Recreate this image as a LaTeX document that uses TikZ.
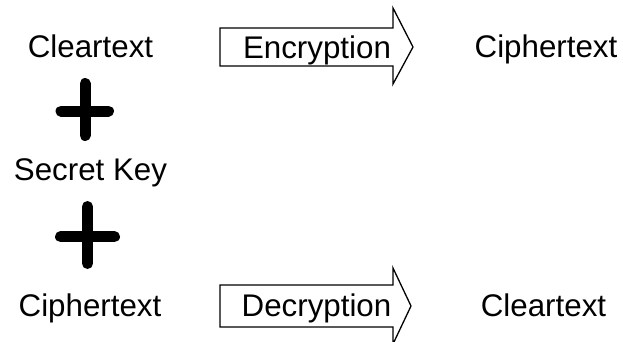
\documentclass[tikz,border=0pt]{standalone}
\usepackage{fontspec}
\setmainfont{Liberation Sans}
\begin{document}
\begin{tikzpicture}[x=1pt,y=-1pt,
  lbl/.style={anchor=base,inner sep=0pt,font=\fontsize{31.3}{36}\selectfont},
  outline/.style={draw=black,line width=1.3pt,line join=miter,fill=white},
  plusbar/.style={line width=11pt,line cap=round}]
\useasboundingbox (0,0) rectangle (623,341);

% block arrows
\draw[outline] (220,28) -- (393,28) -- (393,8) -- (413,47) -- (393,84)
  -- (393,66) -- (220,66) -- cycle;
\draw[outline] (220,285) -- (393,285) -- (393,268) -- (411,306) -- (393,344)
  -- (393,327) -- (220,327) -- cycle;

% labels
\node[lbl] (clear1) at (90.5,57) {Cleartext};
\node[lbl] (enc) at (317,58) {Encryption};
\node[lbl] (ciph1) at (546,57) {Ciphertext};
\node[lbl] (key) at (90.5,180) {Secret Key};
\node[lbl] (ciph2) at (90,316) {Ciphertext};
\node[lbl] (dec) at (316.5,316) {Decryption};
\node[lbl] (clear2) at (543.5,316) {Cleartext};

% plus signs
\draw[plusbar] (85,83.5) -- (85,135.5);
\draw[plusbar] (61,111) -- (108.5,111);
\draw[plusbar] (87.5,206.5) -- (87.5,263.5);
\draw[plusbar] (60.5,236.7) -- (114.5,236.7);
\end{tikzpicture}
\end{document}
